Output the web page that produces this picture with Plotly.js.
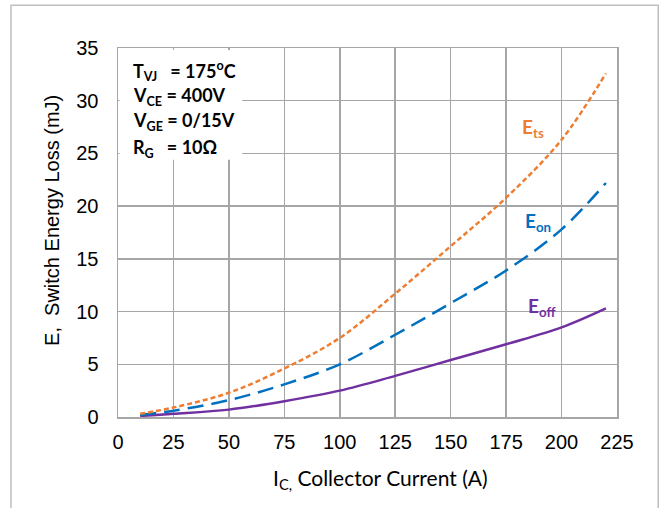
<!DOCTYPE html>
<html>
<head>
<meta charset="utf-8">
<script src="https://cdn.plot.ly/plotly-3.0.1.min.js"></script>
<style>html,body{margin:0;padding:0;background:#fff;}#chart{width:661px;height:508px;}</style>
</head>
<body>
<div id="chart"></div>
<script>
// Collector current (A)
const current = [10, 25, 50, 75, 100, 125, 150, 175, 200, 220];
// Switching energies (mJ)
const eTs  = [0.3, 0.9, 2.3, 4.6, 7.5, 11.7, 16.2, 20.8, 26.3, 32.6];
const eOn  = [0.2, 0.6, 1.6, 3.1, 5.0, 7.8, 10.8, 13.9, 17.8, 22.2];
const eOff = [0.1, 0.3, 0.7, 1.5, 2.5, 3.9, 5.4, 6.9, 8.5, 10.3];
const xTicks = [0, 25, 50, 75, 100, 125, 150, 175, 200, 225];
const yTicks = [0, 5, 10, 15, 20, 25, 30, 35];
const xTitle = "I<sub>C,</sub> Collector Current (A)";
const yTitle = "E,\u00a0\u00a0Switch Energy Loss (mJ)";
const condLines = [
  "T<sub>VJ</sub>\u00a0\u00a0\u00a0= 175<sup>o</sup>C",
  "V<sub>CE</sub> = 400V",
  "V<sub>GE</sub> = 0/15V",
  "R<sub>G</sub>\u00a0\u00a0\u00a0= 10\u03a9"
];
const condY = [32.8, 30.4, 28.0, 25.5];
const curveLabels = ["E<sub>ts</sub>", "E<sub>on</sub>", "E<sub>off</sub>"];
const labelX = [187, 189.5, 191];
const labelY = [27.4, 18.5, 10.4];

const colors = ["#ED7D31", "#0070C0", "#7030A0"];
const grid = "#A6A6A6";
const calib = "Lato, 'Liberation Sans', sans-serif";
const arial = "'Liberation Sans', Arial, sans-serif";

const traces = [
  {x: current, y: eOff, mode: "lines", line: {color: colors[2], width: 2.5, shape: "spline"}, hoverinfo: "skip"},
  {x: current, y: eOn, mode: "lines", line: {color: colors[1], width: 2.5, dash: "16px,8px", shape: "spline"}, hoverinfo: "skip"},
  {x: current, y: eTs, mode: "lines", line: {color: colors[0], width: 2.5, dash: "5px,3px", shape: "spline"}, hoverinfo: "skip"}
];

const annotations = [];
condLines.forEach((t, i) => annotations.push({
  x: 5.8, y: condY[i], xref: "x", yref: "y", text: t, showarrow: false,
  xanchor: "left", yanchor: "middle",
  font: {family: calib, size: 18, color: "#000", weight: "bold"}
}));
curveLabels.forEach((t, i) => annotations.push({
  x: labelX[i], y: labelY[i], xref: "x", yref: "y", text: t, showarrow: false,
  xanchor: "center", yanchor: "middle",
  font: {family: calib, size: 19, color: colors[i], weight: "bold"}
}));
annotations.push({
  x: 0.527, y: -0.167, xref: "paper", yref: "paper", text: xTitle, showarrow: false,
  xanchor: "center", yanchor: "middle",
  font: {family: calib, size: 21, color: "#000"}
});
annotations.push({
  x: -0.1323, y: 0.534, xref: "paper", yref: "paper", text: yTitle, showarrow: false,
  xanchor: "center", yanchor: "middle", textangle: -90,
  font: {family: arial, size: 20, color: "#000"}
});

const axisCommon = {
  showgrid: true, gridcolor: grid, gridwidth: 1.5,
  showline: true, linecolor: grid, linewidth: 1.5, mirror: true,
  zeroline: false, ticks: "", ticklen: 0,
  tickfont: {family: arial, size: 20, color: "#000"}
};

const layout = {
  width: 661, height: 508,
  margin: {l: 118, r: 44, t: 48, b: 91},
  paper_bgcolor: "#fff", plot_bgcolor: "#fff",
  showlegend: false,
  xaxis: Object.assign({}, axisCommon, {
    range: [0, 225], tickvals: xTicks, ticktext: xTicks.map(String), ticklabelstandoff: 6
  }),
  yaxis: Object.assign({}, axisCommon, {
    range: [0, 35], tickvals: yTicks, ticktext: yTicks.map(String), ticklabelstandoff: 14
  }),
  shapes: [
    {type: "rect", xref: "paper", yref: "paper", x0: -0.2144, x1: 1.0826, y0: -0.3, y1: 1.116,
     line: {color: "#BFBFBF", width: 1.5}, fillcolor: "rgba(0,0,0,0)", layer: "below"},
    {type: "rect", xref: "x", yref: "y", x0: 0.7, x1: 56, y0: 24.4, y1: 34.8,
     line: {width: 0}, fillcolor: "#fff", layer: "above"}
  ],
  annotations: annotations
};

Plotly.newPlot("chart", traces, layout, {staticPlot: true, displayModeBar: false});
</script>
</body>
</html>
